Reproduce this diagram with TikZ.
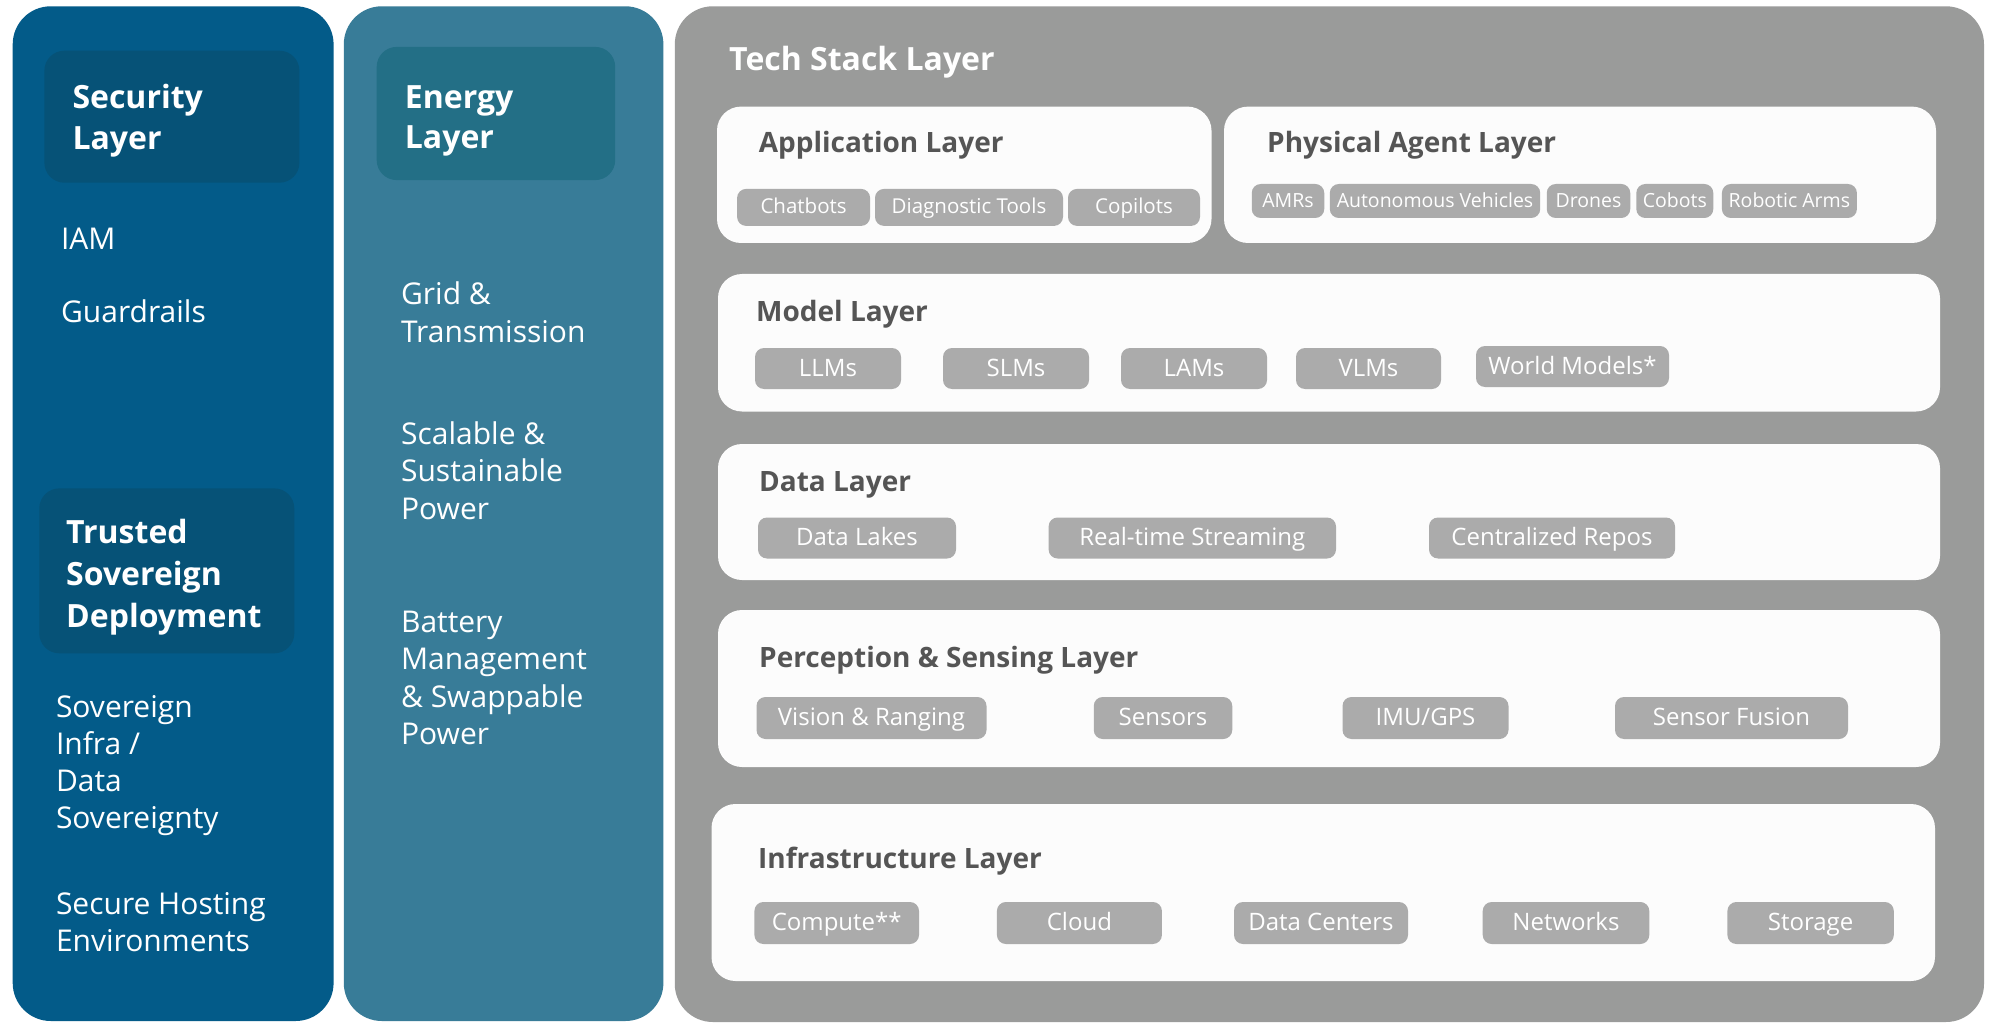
\documentclass[tikz,border=0pt]{standalone}
\usepackage{fontspec}
\setmainfont{Open Sans}
\definecolor{secblue}{HTML}{035B89}
\definecolor{sechead}{HTML}{065277}
\definecolor{engblue}{HTML}{387C98}
\definecolor{enghead}{HTML}{236F86}
\definecolor{stackgray}{HTML}{9A9B9A}
\definecolor{panelc}{HTML}{FCFCFC}
\definecolor{chipc}{HTML}{ABABAB}
\definecolor{titlec}{HTML}{555555}
\tikzset{
  column/.style={rounded corners=38pt},
  headbox/.style={rounded corners=20pt},
  panel/.style={fill=panelc, rounded corners=24pt},
  coltext/.style={text=white, anchor=west, align=left, inner sep=0pt,
    font=\fontsize{30}{37.5}\selectfont},
  colhead/.style={text=white, anchor=west, align=left, inner sep=0pt,
    font=\fontsize{32}{40.5}\selectfont\bfseries},
  layertitle/.style={text=titlec, anchor=west, inner sep=0pt,
    text height=20pt, text depth=0pt,
    font=\fontsize{28}{34}\selectfont\bfseries},
  chip/.style={fill=chipc, rounded corners=9pt, text=white, inner sep=0pt,
    text height=15pt, text depth=0pt,
    font=\fontsize{24}{28}\selectfont},
  smallchip/.style={chip, text height=13pt, font=\fontsize{20.5}{24}\selectfont},
  agentchip/.style={chip, text height=12.5pt, font=\fontsize{19.5}{24}\selectfont, minimum height=34pt}
}
\begin{document}
\begin{tikzpicture}[x=1pt,y=-1pt]
\useasboundingbox[fill=white] (0,0) rectangle (1989,1024);

% ---- Security column ----
\fill[secblue, column] (12.7,6.3) rectangle (333.6,1021);
\fill[sechead, headbox] (44.4,50.7) rectangle (299.4,182.7);
\node[colhead] (sechdr) at (72.3,120.7) {Security\\Layer};
\node[coltext] (iam) at (60.9,238.5) {IAM};
\node[coltext] (guard) at (60.9,311.5) {Guardrails};
\fill[sechead, headbox] (39.3,488.4) rectangle (294.3,653.3);
\node[colhead, font=\fontsize{32}{42}\selectfont\bfseries] (tsd) at (66,577.4) {Trusted\\Sovereign\\Deployment};
\node[coltext, font=\fontsize{30}{37.2}\selectfont] (sovinfra) at (55.8,765.4) {Sovereign\\Infra /\\Data\\Sovereignty};
\node[coltext, font=\fontsize{30}{37}\selectfont] (hosting) at (55.8,922.1) {Secure Hosting\\Environments};

% ---- Energy column ----
\fill[engblue, column] (343.8,6.3) rectangle (663.4,1021);
\fill[enghead, headbox] (376.7,46.9) rectangle (615.2,180.1);
\node[colhead] (enghdr) at (404.7,121) {Energy\\Layer};
\node[coltext, font=\fontsize{30}{38}\selectfont] (grid) at (400.9,312.5) {Grid \&\\Transmission};
\node[coltext, font=\fontsize{30}{37.4}\selectfont] (scalable) at (400.9,470.5) {Scalable \&\\Sustainable\\Power};
\node[coltext, font=\fontsize{30}{37.2}\selectfont] (battery) at (400.9,677.9) {Battery\\Management\\\& Swappable\\Power};

% ---- Tech stack ----
\fill[stackgray, column] (674.8,6.3) rectangle (1984,1022);
\node[layertitle, text=white, text height=23pt, font=\fontsize{32}{38}\selectfont\bfseries] (techtitle) at (729,59) {Tech Stack Layer};

% Application layer
\path[panel] (717,106.6) rectangle (1211.5,243);
\node[layertitle] (apptitle) at (758.6,142.5) {Application Layer};
\node[smallchip, minimum width=133pt, minimum height=37pt] (chatbots) at (803.6,207.4) {Chatbots};
\node[smallchip, minimum width=188pt, minimum height=37pt] (diagnostic) at (969,207.4) {Diagnostic Tools};
\node[smallchip, minimum width=132pt, minimum height=37pt] (copilots) at (1134,207.4) {Copilots};

% Physical agent layer
\path[panel] (1224,106.6) rectangle (1936,243);
\node[layertitle] (phystitle) at (1267,142.5) {Physical Agent Layer};
\node[agentchip, minimum width=72.5pt] (amrs) at (1288,201) {AMRs};
\node[agentchip, minimum width=210.4pt] (autonomous) at (1435,201) {Autonomous Vehicles};
\node[agentchip, minimum width=83.5pt] (drones) at (1588.5,201) {Drones};
\node[agentchip, minimum width=77pt] (cobots) at (1674.8,201) {Cobots};
\node[agentchip, minimum width=135pt] (robotic) at (1789.4,201) {Robotic Arms};

% Model layer
\path[panel] (718,274) rectangle (1940,411.5);
\node[layertitle] (modeltitle) at (756,311) {Model Layer};
\node[chip, minimum width=146pt, minimum height=41pt] (llms) at (828,368.5) {LLMs};
\node[chip, minimum width=146pt, minimum height=41pt] (slms) at (1016,368.5) {SLMs};
\node[chip, minimum width=146pt, minimum height=41pt] (lams) at (1194,368.5) {LAMs};
\node[chip, minimum width=145pt, minimum height=41pt] (vlms) at (1368.5,368.5) {VLMs};
\node[chip, minimum width=193pt, minimum height=41pt] (world) at (1572.5,366.5) {World Models*};

% Data layer
\path[panel] (718,444) rectangle (1940,580);
\node[layertitle] (datatitle) at (759,481) {Data Layer};
\node[chip, minimum width=198pt, minimum height=41pt] (lakes) at (857,538) {Data Lakes};
\node[chip, minimum width=287.4pt, minimum height=41pt] (streaming) at (1192.3,538) {Real-time Streaming};
\node[chip, minimum width=246pt, minimum height=41pt] (repos) at (1552,538) {Centralized Repos};

% Perception & sensing layer
\path[panel] (718,610) rectangle (1940,767);
\node[layertitle] (perctitle) at (759,657) {Perception \& Sensing Layer};
\node[chip, minimum width=230pt, minimum height=42pt] (vision) at (871.5,718) {Vision \& Ranging};
\node[chip, minimum width=138.5pt, minimum height=42pt] (sensors) at (1163,718) {Sensors};
\node[chip, minimum width=166pt, minimum height=42pt] (imugps) at (1425.5,718) {IMU/GPS};
\node[chip, minimum width=233pt, minimum height=42pt] (fusion) at (1731.5,718) {Sensor Fusion};

% Infrastructure layer
\path[panel] (711.5,804) rectangle (1935,981);
\node[layertitle] (infratitle) at (758,858) {Infrastructure Layer};
\node[chip, minimum width=164.6pt, minimum height=42pt] (compute) at (836.7,923) {Compute**};
\node[chip, minimum width=165pt, minimum height=42pt] (cloud) at (1079.4,923) {Cloud};
\node[chip, minimum width=174pt, minimum height=42pt] (datacenters) at (1321,923) {Data Centers};
\node[chip, minimum width=166.6pt, minimum height=42pt] (networks) at (1566,923) {Networks};
\node[chip, minimum width=166.4pt, minimum height=42pt] (storage) at (1810.6,923) {Storage};
\end{tikzpicture}
\end{document}
